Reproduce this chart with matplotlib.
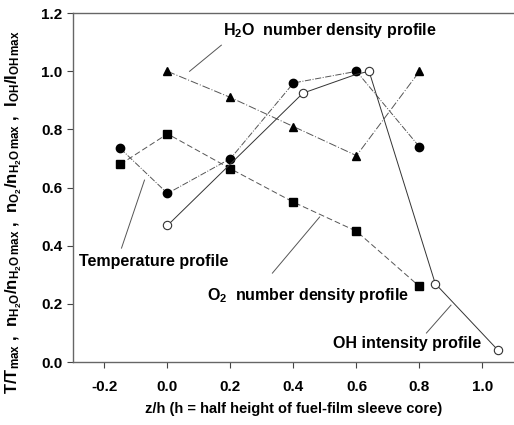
import numpy as np
import matplotlib.pyplot as plt

plt.rcParams['font.family'] = ['Liberation Sans', 'DejaVu Sans']
plt.rcParams['font.weight'] = 'bold'
plt.rcParams['mathtext.fontset'] = 'custom'
plt.rcParams['mathtext.rm'] = 'Liberation Sans:bold'
plt.rcParams['mathtext.it'] = 'Liberation Sans:bold'
plt.rcParams['mathtext.bf'] = 'Liberation Sans:bold'

# data
temp_x = [-0.15, 0.0, 0.2, 0.4, 0.6, 0.8]
temp_y = [0.735, 0.58, 0.70, 0.96, 1.0, 0.74]

o2_x = [-0.15, 0.0, 0.2, 0.4, 0.6, 0.8]
o2_y = [0.68, 0.785, 0.665, 0.55, 0.45, 0.26]

h2o_x = [0.0, 0.2, 0.4, 0.6, 0.8]
h2o_y = [1.0, 0.91, 0.81, 0.71, 1.0]

oh_x = [0.0, 0.43, 0.60, 0.64, 0.85, 1.05]
oh_y = [0.47, 0.925, 0.99, 1.0, 0.27, 0.04]

xticks = [-0.2, 0.0, 0.2, 0.4, 0.6, 0.8, 1.0]
yticks = [0.0, 0.2, 0.4, 0.6, 0.8, 1.0, 1.2]

# label text, text position, leader line start/end
labels = [
    (r'H$_2$O  number density profile', (0.175, 1.14), (0.07, 1.0), (0.171, 1.09)),
    ('Temperature profile', (-0.28, 0.345), (-0.146, 0.392), (-0.073, 0.626)),
    (r'O$_2$  number density profile', (0.124, 0.23), (0.333, 0.306), (0.483, 0.499)),
    ('OH intensity profile', (0.524, 0.065), (0.822, 0.10), (0.90, 0.196)),
]

fig = plt.figure(figsize=(5.14, 4.25), dpi=100)
ax = fig.add_axes([0.142, 0.148, 0.858, 0.821])

lc = '#555555'
ax.plot(temp_x, temp_y, color=lc, lw=0.7, ls='-.', marker='o', ms=6,
        mfc='black', mec='black', zorder=3)
ax.plot(o2_x, o2_y, color=lc, lw=0.7, ls=(0, (6, 3)), marker='s', ms=5.5,
        mfc='black', mec='black', zorder=3)
ax.plot(h2o_x, h2o_y, color=lc, lw=0.7, ls=(0, (8, 2, 1, 2)), marker='^', ms=6,
        mfc='black', mec='black', zorder=3)
ax.plot(oh_x, oh_y, color='#333333', lw=0.7, ls='-', marker='', zorder=3)
oh_mx = [oh_x[i] for i in (0, 1, 3, 4, 5)]
oh_my = [oh_y[i] for i in (0, 1, 3, 4, 5)]
ax.plot(oh_mx, oh_my, ls='none', marker='o', ms=6, mfc='white',
        mec='#333333', mew=0.8, zorder=4)

for text, tpos, p0, p1 in labels:
    ax.plot([p0[0], p1[0]], [p0[1], p1[1]], color=lc, lw=0.7, zorder=2)
    ax.text(tpos[0], tpos[1], text, fontsize=11.5, fontweight='bold',
            ha='left', va='center')

ax.set_xlim(-0.3, 1.1)
ax.set_ylim(0.0, 1.2)
ax.set_xticks(xticks)
ax.set_yticks(yticks)
ax.set_xticklabels([f'{v:.1f}' for v in xticks], fontsize=11, fontweight='bold')
ax.set_yticklabels([f'{v:.1f}' for v in yticks], fontsize=11, fontweight='bold')
ax.tick_params(direction='out', length=4, width=0.8, color='#444444')
ax.tick_params(axis='x', pad=9)

ax.spines['right'].set_visible(False)
for s in ('left', 'bottom', 'top'):
    ax.spines[s].set_color('#666666')
    ax.spines[s].set_linewidth(1.0)

ax.set_xlabel('z/h (h = half height of fuel-film sleeve core)', fontsize=10.5,
              fontweight='bold', labelpad=6)
ax.set_ylabel(r'T/T$_{max}$ ,  n$_{H_2O}$/n$_{H_2O\,max}$ ,  '
              r'n$_{O_2}$/n$_{H_2O\,max}$ ,  I$_{OH}$/I$_{OH\,max}$',
              fontsize=12, fontweight='bold')
ax.yaxis.set_label_coords(-0.11, 0.43)

fig.savefig('out.png', dpi=100)
